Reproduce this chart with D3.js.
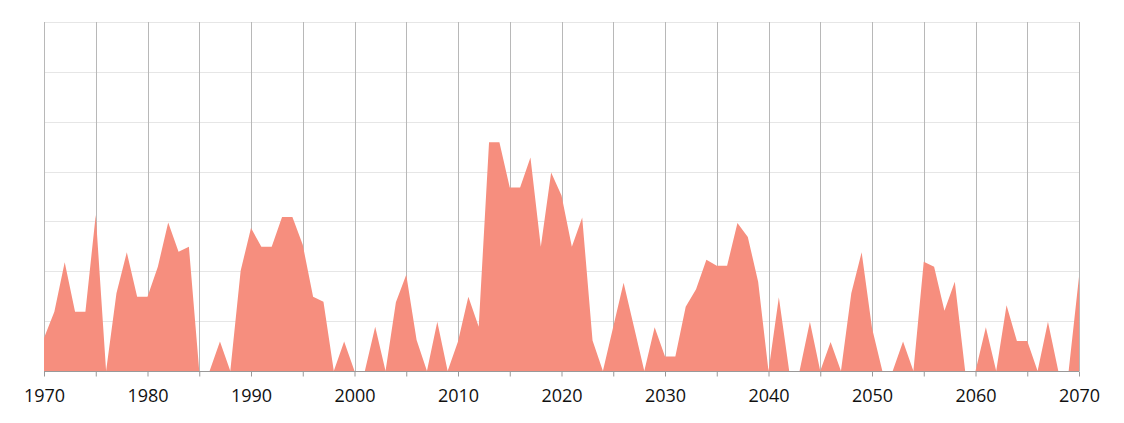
<!DOCTYPE html>
<html>
<head>
<meta charset="utf-8">
<script src="https://cdn.jsdelivr.net/npm/d3@7"></script>
<style>
  html, body { margin: 0; padding: 0; background: #fff; }
  #chart { width: 1124px; height: 423px; }
  text { font-family: "Open Sans", sans-serif; }
</style>
</head>
<body>
<div id="chart"></div>
<script>
// Area chart, yearly values 1970-2070

const years = d3.range(1970, 2071);

const values = [
  6.6, 11.9, 21.8, 11.9, 11.9, 31.3, 0, 15.6, 23.8, 14.9,
  14.9, 20.9, 29.8, 23.9, 24.9, 0, 0, 5.9, 0, 20.1,
  28.7, 24.9, 24.9, 30.9, 30.9, 25.3, 14.9, 13.9, 0, 5.9,
  0, 0, 8.9, 0, 13.8, 19.3, 6.2, 0, 9.9, 0,
  5.9, 14.9, 8.9, 45.9, 45.9, 36.8, 36.8, 42.8, 24.9, 39.8,
  35.2, 24.9, 30.8, 6.1, 0, 8.9, 17.7, 8.9, 0, 8.8,
  2.9, 2.9, 12.9, 16.4, 22.3, 21.1, 21.1, 29.7, 26.9, 17.9,
  0, 14.8, 0, 0, 9.9, 0, 5.8, 0, 15.6, 23.8,
  8.6, 0, 0, 5.9, 0, 21.9, 20.9, 12.1, 17.9, 0,
  0, 8.8, 0, 13.2, 6.0, 6.0, 0, 9.9, 0, 0,
  18.9
];

const xTickLabels = ['1970', '1980', '1990', '2000', '2010', '2020', '2030', '2040', '2050', '2060', '2070'];
const yGridValues = [0, 10, 20, 30, 40, 50, 60, 70];

const data = years.map((y, i) => ({ year: y, value: values[i] }));

let width = 1124;
let height = 423;
let margin = { top: 22, right: 45, bottom: 52, left: 44 };

let svg = d3.select('#chart').append('svg')
  .attr('width', width)
  .attr('height', height);

let x = d3.scaleLinear()
  .domain([1970, 2070])
  .range([margin.left, width - margin.right]);

let y = d3.scaleLinear()
  .domain([0, 70])
  .range([height - margin.bottom, margin.top]);

// horizontal grid
svg.append('g')
  .selectAll('line')
  .data(yGridValues)
  .enter()
    .append('line')
    .attr('x1', margin.left)
    .attr('x2', width - margin.right)
    .attr('y1', d => Math.round(y(d)) + 0.5)
    .attr('y2', d => Math.round(y(d)) + 0.5)
    .attr('stroke', '#e6e6e6')
    .attr('stroke-width', 1);

// vertical grid every 5 years
svg.append('g')
  .selectAll('line')
  .data(d3.range(1970, 2071, 5))
  .enter()
    .append('line')
    .attr('x1', d => Math.round(x(d)) + 0.5)
    .attr('x2', d => Math.round(x(d)) + 0.5)
    .attr('y1', margin.top)
    .attr('y2', height - margin.bottom)
    .attr('stroke', '#b8b8b8')
    .attr('stroke-width', 1);

// area
let area = d3.area()
  .x(d => x(d.year))
  .y0(y(0))
  .y1(d => y(d.value));

svg.append('path')
  .datum(data)
  .attr('d', area)
  .attr('fill', '#f68e7e');

// x axis
let xAxis = d3.axisBottom(x)
  .tickValues(d3.range(1970, 2071, 5))
  .tickSize(5)
  .tickPadding(13)
  .tickFormat(d => xTickLabels.includes(String(d)) ? String(d) : '');

let gx = svg.append('g')
  .attr('transform', `translate(0,${Math.round(y(0)) + 0.5})`)
  .call(xAxis);

gx.select('.domain').attr('stroke', '#999').attr('d', `M${x(1970)},0H${x(2070)}`);
gx.selectAll('.tick line').attr('stroke', '#999');
gx.selectAll('.tick text')
  .attr('fill', '#111')
  .style('font-size', '18px')
  .style('font-family', '"Open Sans", sans-serif');
</script>
</body>
</html>
